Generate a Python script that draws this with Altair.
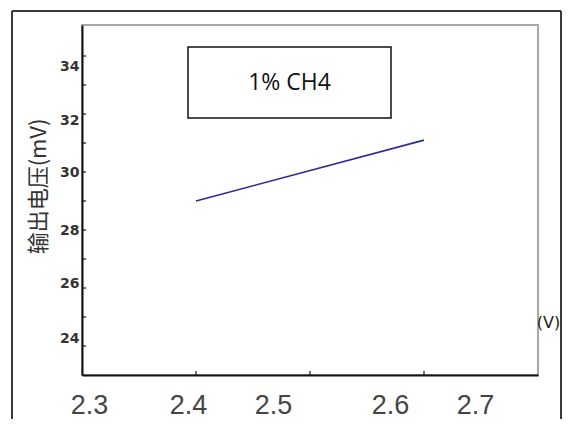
import altair as alt
import pandas as pd

# ---- data ----
x_vals = [2.4, 2.6]
y_vals = [29.0, 31.1]

x_ticks = [2.3, 2.4, 2.5, 2.6, 2.7]
x_label_shift = [7, -8, -37, -34, -63]
y_ticks = [24, 26, 28, 30, 32, 34]
y_label_shift = [-8, -5, 0, 0, 6, 10]
y_minor = [24, 25, 26, 27, 28, 29, 30, 31, 32, 33, 34]
x_minor = [2.4, 2.5, 2.6]

box_text = "1% CH4"
y_title = "输出电压(mV)"
x_title = "(V)"

x_domain = [2.3, 2.7]
y_domain = [23, 35.07]


def shift_expr(vals, shifts):
    expr = "0"
    for v, s in reversed(list(zip(vals, shifts))):
        expr = f"(abs(datum.value - {v}) < 1e-6 ? {s} : {expr})"
    return expr


xs = alt.Scale(domain=x_domain, nice=False, zero=False)
ys = alt.Scale(domain=y_domain, nice=False, zero=False)

x_axis = alt.Axis(
    values=x_ticks,
    format=".1f",
    ticks=False,
    grid=False,
    domainColor="#111",
    domainWidth=2,
    labelFont="Liberation Sans",
    labelFontSize=27,
    labelColor="#444",
    labelPadding=17,
    labelFlush=False,
    labelOverlap=False,
    labelOffset=alt.ExprRef(shift_expr(x_ticks, x_label_shift)),
    titleX=466,
    titleY=-53,
    titleAlign="center",
    titleBaseline="middle",
    titleFont="DejaVu Sans",
    titleFontSize=16,
    titleFontWeight="normal",
    titleColor="#222",
)
y_axis = alt.Axis(
    values=y_ticks,
    ticks=False,
    grid=False,
    domainColor="#111",
    domainWidth=2,
    labelFont="DejaVu Sans",
    labelFontSize=14,
    labelFontWeight="bold",
    labelColor="#333",
    labelPadding=3,
    labelBaseline="middle",
    labelFlush=False,
    labelOverlap=False,
    labelOffset=alt.ExprRef(shift_expr(y_ticks, y_label_shift)),
    titleX=-44,
    titleY=161,
    titleAngle=270,
    titleAlign="center",
    titleBaseline="middle",
    titleFont="Noto Sans CJK SC",
    titleFontSize=22,
    titleFontWeight="normal",
    titleColor="#333",
)

line_df = pd.DataFrame({"x": x_vals, "y": y_vals})
one = pd.DataFrame({"t": [box_text]})

frame_style = dict(color="#3a3a3a", strokeWidth=2)
frame_top = alt.Chart(one).mark_rule(**frame_style).encode(
    x=alt.value(-70), x2=alt.value(479), y=alt.value(-14)
)
frame_left = alt.Chart(one).mark_rule(**frame_style).encode(
    x=alt.value(-70), y=alt.value(-14), y2=alt.value(420)
)
frame_right = alt.Chart(one).mark_rule(**frame_style).encode(
    x=alt.value(479), y=alt.value(-14), y2=alt.value(420)
)

box = alt.Chart(one).mark_rect(fill="white", stroke="#111", strokeWidth=1.5).encode(
    x=alt.value(106), x2=alt.value(309), y=alt.value(22), y2=alt.value(93)
)
box_label = alt.Chart(one).mark_text(
    font="Open Sans", fontSize=23, color="#111", align="center", baseline="middle"
).encode(x=alt.value(207.5), y=alt.value(57.5), text="t:N")

line = alt.Chart(line_df).mark_line(color="#2b2b96", strokeWidth=1.6).encode(
    x=alt.X("x:Q", scale=xs, title=x_title, axis=x_axis),
    y=alt.Y("y:Q", scale=ys, title=y_title, axis=y_axis),
)

yt = alt.Chart(pd.DataFrame({"y": y_minor})).mark_rule(color="#111", strokeWidth=1.2).encode(
    y=alt.Y("y:Q", scale=ys, title=y_title, axis=y_axis), x=alt.value(0), x2=alt.value(4)
)
xt = alt.Chart(pd.DataFrame({"x": x_minor})).mark_rule(color="#111", strokeWidth=1.2).encode(
    x=alt.X("x:Q", scale=xs, title=x_title, axis=x_axis), y=alt.value(350), y2=alt.value(346)
)

chart = (
    alt.layer(line, yt, xt, frame_top, frame_left, frame_right, box, box_label)
    .properties(
        width=456,
        height=350,
        padding={"left": 74, "top": 17, "right": 25, "bottom": 44},
        autosize=alt.AutoSizeParams(type="none"),
        background="white",
    )
    .configure_view(stroke="#a8a8a8", strokeWidth=2)
)

chart.save("out.html", embed_options={"renderer": "svg", "actions": False})
